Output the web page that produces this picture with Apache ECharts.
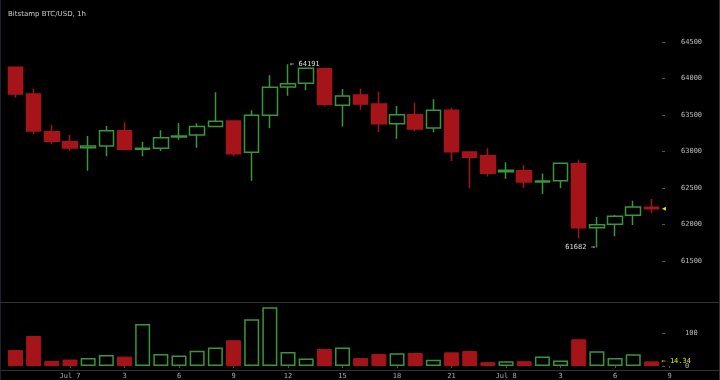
<!DOCTYPE html>
<html><head><meta charset="utf-8">
<script src="https://cdn.jsdelivr.net/npm/echarts@6/dist/echarts.min.js"></script>
<style>html,body{margin:0;padding:0;background:#000}#c{width:720px;height:380px}</style>
</head><body><div id="c"></div>
<script>
const chartTitle = 'Bitstamp BTC/USD, 1h';
const categories = ['21','22','23','Jul 7','1','2','3','4','5','6','7','8','9','10','11','12','13','14','15','16','17','18','19','20','21','22','23','Jul 8','1','2','3','4','5','6','7','8','9','10','11'];
const opens  = [64150,63785,63269,63132,63050,63073,63283,63027,63041,63196,63223,63338,63415,62986,63493,63881,63931,64132,63630,63771,63648,63379,63502,63319,63561,62990,62940,62721,62735,62579,62598,62831,61954,62000,62123,62232];
const closes = [63785,63278,63137,63045,63073,63283,63027,63041,63187,63210,63338,63411,62968,63493,63876,63927,64137,63644,63758,63648,63379,63502,63306,63561,62995,62917,62698,62739,62579,62593,62835,61954,61995,62109,62237,62214];
const lows   = [63735,63237,63095,63009,62735,62931,63018,62931,63004,63159,63050,63328,62931,62598,63315,63762,63835,63616,63338,63570,63264,63173,63274,63260,62867,62493,62653,62625,62502,62415,62493,61808,61682,61835,61990,62155];
const highs  = [64155,63854,63365,63223,63210,63347,63397,63132,63287,63388,63383,63808,63420,63561,64041,64191,64140,64135,63854,63858,63817,63621,63662,63712,63593,62999,63041,62849,62812,62694,62840,62885,62100,62127,62324,62346];
const volumes = [49,92,16,20,24.5,34,29,129,37,32,47,57,79,143,180,43,23.5,52,57,24.5,37,39,40,19,42,46,12,15,15,29,17,82,45,24.5,36,14.34];
const priceTicks = [61500,62000,62500,63000,63500,64000,64500];
const volumeTicks = [0,100];

const GREEN = '#3a963a', RED = '#a51418';
const mono = 'DejaVu Sans Mono';
const last = closes.length - 1;
const maxHigh = Math.max(...highs), iMax = highs.indexOf(maxHigh);
const minLow = Math.min(...lows), iMin = lows.indexOf(minLow);
const showLab = (i) => i > 0 && i % 3 === 0;
const plain = (v) => String(v);

const chart = echarts.init(document.getElementById('c'), null, {renderer: 'canvas'});
chart.setOption({
  animation: false,
  backgroundColor: '#000',
  title: {text: chartTitle, left: 8, top: 11, padding: 0,
    textStyle: {color: '#ccc', fontSize: 7, fontWeight: 'normal', fontFamily: 'DejaVu Sans'}},
  graphic: [
    {type: 'line', shape: {x1: 0.5, y1: 0, x2: 0.5, y2: 380}, style: {stroke: '#1f2330', lineWidth: 1}},
    {type: 'line', shape: {x1: 719.5, y1: 0, x2: 719.5, y2: 380}, style: {stroke: '#333', lineWidth: 1}},
    {type: 'line', shape: {x1: 0, y1: 302.5, x2: 720, y2: 302.5}, style: {stroke: '#333', lineWidth: 1}},
    {type: 'line', shape: {x1: 0, y1: 370.5, x2: 720, y2: 370.5}, style: {stroke: '#333', lineWidth: 1}}
  ],
  grid: [
    {left: 6.4, right: 5, top: 0, height: 302},
    {left: 6.4, right: 5, top: 302, height: 68}
  ],
  xAxis: [
    {type: 'category', gridIndex: 0, data: categories, show: false},
    {type: 'category', gridIndex: 1, data: categories,
      axisLine: {show: false},
      axisTick: {show: true, alignWithLabel: true, length: 2, interval: showLab, lineStyle: {color: '#555'}},
      axisLabel: {interval: showLab, color: '#aaa', fontSize: 7, fontFamily: mono, margin: 3},
      splitLine: {show: false}}
  ],
  yAxis: [
    {type: 'value', gridIndex: 0, position: 'right', min: 60935, max: 65073, offset: -53, scale: true,
      splitLine: {show: false}, axisLine: {show: false},
      axisTick: {show: true, length: 3, customValues: priceTicks, lineStyle: {color: '#555'}},
      axisLabel: {customValues: priceTicks, formatter: plain, margin: 19, color: '#bbb', fontSize: 7, fontFamily: mono}},
    {type: 'value', gridIndex: 1, position: 'right', min: -12, max: 196, offset: -53,
      splitLine: {show: false}, axisLine: {show: false},
      axisTick: {show: true, length: 3, customValues: volumeTicks, lineStyle: {color: '#555'}},
      axisLabel: {customValues: volumeTicks, formatter: plain, margin: 23, color: '#bbb', fontSize: 7, fontFamily: mono}}
  ],
  series: [
    {type: 'candlestick', xAxisIndex: 0, yAxisIndex: 0, barWidth: 15,
      data: opens.map((o, i) => [o, closes[i], lows[i], highs[i]]),
      itemStyle: {color: '#000', color0: RED, borderColor: GREEN, borderColor0: RED, borderWidth: 1.5},
      markPoint: {
        symbol: 'circle', symbolSize: 0.1,
        data: [
          {coord: [iMax, maxHigh], itemStyle: {color: 'rgba(0,0,0,0)'},
            label: {show: true, position: 'right', distance: 2, formatter: '\u2190 ' + maxHigh, color: '#ddd', fontSize: 7, fontFamily: mono}},
          {coord: [iMin, minLow], itemStyle: {color: 'rgba(0,0,0,0)'},
            label: {show: true, position: 'left', distance: 2, formatter: minLow + ' \u2192', color: '#ddd', fontSize: 7, fontFamily: mono}},
          {coord: [last, closes[last]], symbol: 'triangle', symbolRotate: 90, symbolSize: 4, symbolOffset: [12.5, 0],
            itemStyle: {color: '#e6e600'}, label: {show: false}}
        ]
      }},
    {type: 'bar', xAxisIndex: 1, yAxisIndex: 1, barWidth: 15,
      data: volumes.map((v, i) => ({value: v, itemStyle: closes[i] >= opens[i]
        ? {color: '#000', borderColor: GREEN, borderWidth: 1.5}
        : {color: RED, borderColor: RED, borderWidth: 1}})),
      markPoint: {
        symbol: 'circle', symbolSize: 0.1,
        data: [{coord: [last, volumes[last]], itemStyle: {color: 'rgba(0,0,0,0)'},
          label: {show: true, position: 'right', distance: 10, formatter: '\u2190 ' + volumes[last], color: '#e6e600', fontSize: 7, fontFamily: mono}}]
      }}
  ]
});
</script></body></html>
